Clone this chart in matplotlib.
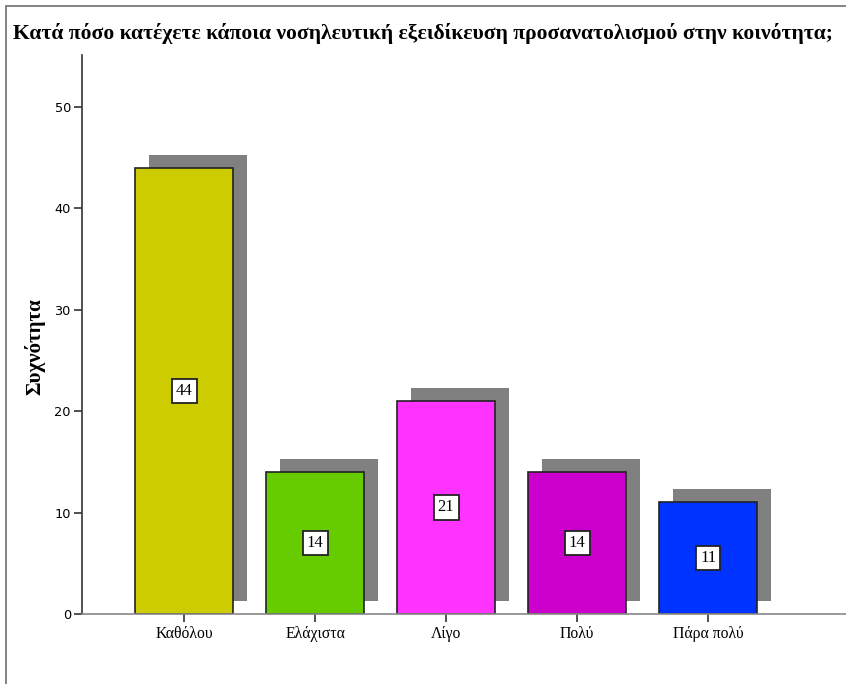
import matplotlib
matplotlib.use("Agg")
import matplotlib.pyplot as plt
import matplotlib.transforms as mtransforms
from matplotlib.patches import Rectangle

categories = ["Καθόλου", "Ελάχιστα", "Λίγο", "Πολύ", "Πάρα πολύ"]
values = [44, 14, 21, 14, 11]
colors = ["#CCCC00", "#66CC00", "#FF33FF", "#CC00CC", "#0033FF"]
yticks = [0, 10, 20, 30, 40, 50]
title = "Κατά πόσο κατέχετε κάποια νοσηλευτική εξειδίκευση προσανατολισμού στην κοινότητα;"
ylabel = "Συχνότητα"

W, H, DPI = 846, 684, 100
fig = plt.figure(figsize=(W / DPI, H / DPI), dpi=DPI)
fig.patch.set_facecolor("white")

# outer frame
fig.add_artist(Rectangle((6 / W, -0.01), 1.02, 1 - 6 / H + 0.01, transform=fig.transFigure,
                         fill=False, edgecolor="#7a7a7a", linewidth=1.3))

ax_w = 1 - 82 / W
ax_h = (614 - 55) / H
ax = fig.add_axes([82 / W, 1 - 614 / H, ax_w, ax_h])
ax.set_xlim(-0.779, 5.053)
ax.set_ylim(0, 55.1)

x = list(range(len(categories)))
shadow_tr = ax.transData + mtransforms.ScaledTranslation(14 / DPI, 13 / DPI, fig.dpi_scale_trans)
ax.bar(x, values, width=0.75, color="#808080", edgecolor="none", transform=shadow_tr, zorder=1)
ax.bar(x, values, width=0.75, color=colors, edgecolor="#222222", linewidth=1.2, zorder=2)

for xi, v in zip(x, values):
    ax.text(xi, v / 2, str(v), ha="center", va="center", fontsize=12,
            family="Liberation Serif", zorder=3,
            bbox=dict(boxstyle="square,pad=0.25", facecolor="white", edgecolor="#222222", linewidth=1.3))

ax.set_xticks(x)
ax.set_xticklabels(categories, family="Liberation Serif", fontsize=11.3)
ax.set_yticks(yticks)
ax.set_yticklabels([str(t) for t in yticks], family="DejaVu Sans", fontsize=9.3)
ax.tick_params(axis="y", length=6, width=1.2, color="#333333", pad=2)
ax.tick_params(axis="x", length=6, width=1.2, color="#333333", pad=3)

for s in ["top", "right"]:
    ax.spines[s].set_visible(False)
ax.spines["left"].set_color("#333333")
ax.spines["left"].set_linewidth(1.2)
ax.spines["bottom"].set_color("#888888")
ax.spines["bottom"].set_linewidth(1.2)

ax.set_ylabel(ylabel, family="Liberation Serif", fontweight="bold", fontsize=15)
ax.yaxis.set_label_coords((35 - 82) / (ax_w * W), (614 - 347) / (ax_h * H))
ax.yaxis.label.set_va("center")

fig.text(13 / W, 1 - 33 / H, title, family="Liberation Serif", fontweight="bold",
         fontsize=15.6, ha="left", va="center")

fig.savefig("out.png", dpi=DPI, facecolor="white")
